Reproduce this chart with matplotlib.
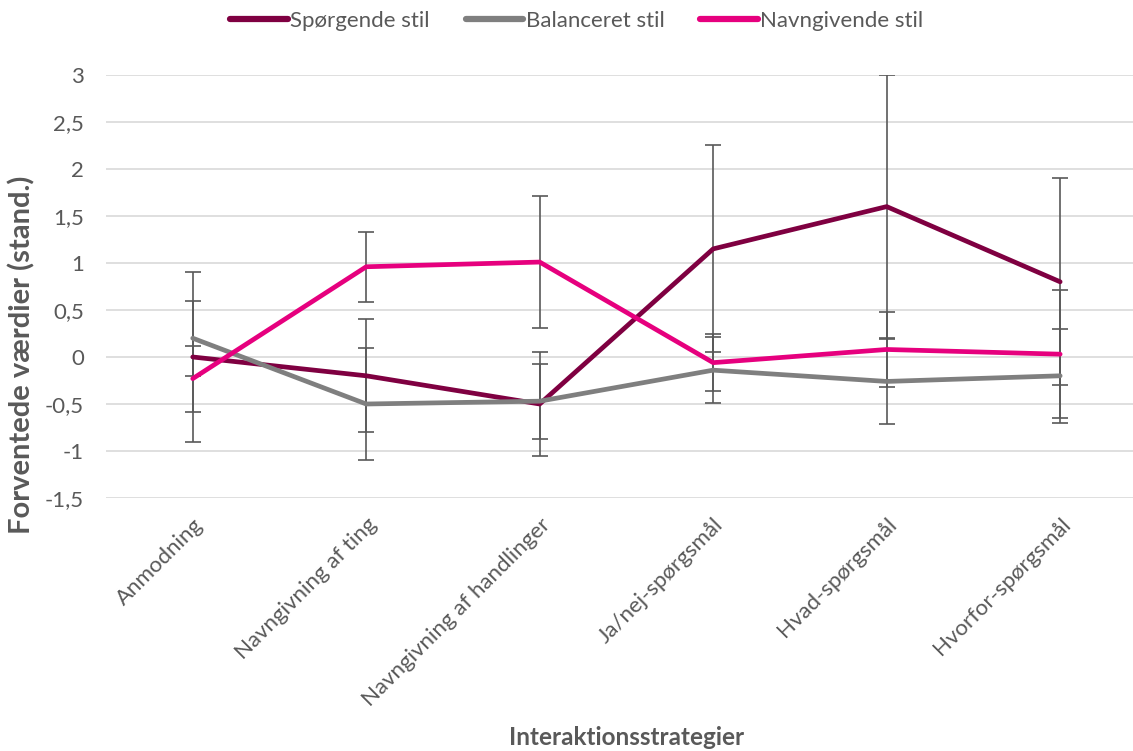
import numpy as np
import matplotlib.pyplot as plt

categories = ['Anmodning', 'Navngivning af ting', 'Navngivning af handlinger',
              'Ja/nej-spørgsmål', 'Hvad-spørgsmål', 'Hvorfor-spørgsmål']

spoergende = [0.0, -0.2, -0.5, 1.15, 1.6, 0.8]
spoergende_err = [0.9, 0.6, 0.55, 1.1, 1.4, 1.1]

balanceret = [0.2, -0.5, -0.47, -0.14, -0.26, -0.2]
balanceret_err = [0.4, 0.6, 0.4, 0.35, 0.45, 0.5]

navngivende = [-0.23, 0.96, 1.01, -0.06, 0.08, 0.03]
navngivende_err = [0.35, 0.37, 0.7, 0.3, 0.4, 0.68]

yticks = [3, 2.5, 2, 1.5, 1, 0.5, 0, -0.5, -1, -1.5]

plt.rcParams['font.family'] = ['Lato', 'DejaVu Sans']
txt = '#595959'

fig = plt.figure(figsize=(11.33, 7.51), dpi=100)
ax = fig.add_axes([106 / 1133, (751 - 498) / 751, 1 - 106 / 1133, (498 - 75) / 751])

x = np.arange(len(categories))
series = [
    (spoergende, spoergende_err, '#7F0041', 'Spørgende stil'),
    (balanceret, balanceret_err, '#7F7F7F', 'Balanceret stil'),
    (navngivende, navngivende_err, '#E6007E', 'Navngivende stil'),
]
for vals, err, col, lab in series:
    ax.errorbar(x, vals, yerr=err, fmt='none', ecolor='#595959', elinewidth=1.2,
                capsize=6, capthick=1.2, zorder=2)
for vals, err, col, lab in series:
    ax.plot(x, vals, color=col, lw=3.4, label=lab, solid_capstyle='round',
            solid_joinstyle='round', zorder=3)

ax.set_xlim(-0.5, 5.42)
ax.set_ylim(-1.5, 3)
ax.set_yticks(yticks)
ax.set_yticklabels([('%g' % v).replace('.', ',') for v in yticks])
ax.set_xticks(x)
ax.set_xticklabels(categories, rotation=45, ha='right', rotation_mode='anchor')
ax.tick_params(axis='both', length=0, labelsize=16, colors=txt)
ax.tick_params(axis='y', pad=16)
ax.tick_params(axis='x', pad=12)
for s in ax.spines.values():
    s.set_visible(False)
ax.grid(axis='y', color='#D9D9D9', lw=1.2)
ax.set_axisbelow(True)

fig.text(22 / 1133, (751 - 355) / 751, 'Forventede værdier (stand.)', rotation=90,
         ha='center', va='center', fontsize=21, fontweight='bold', color=txt)
fig.text(0.553, 0.003, 'Interaktionsstrategier', ha='center', va='bottom',
         fontsize=17.5, fontweight='bold', color=txt)

leg = fig.legend(loc='upper center', bbox_to_anchor=(0.509, 1.012), ncol=3,
                 frameon=False, fontsize=16, handlelength=2.6,
                 handletextpad=0.1, columnspacing=1.6)
for t in leg.get_texts():
    t.set_color(txt)
for h in leg.get_lines():
    h.set_linewidth(4.5)

fig.savefig('out.png', dpi=100)
